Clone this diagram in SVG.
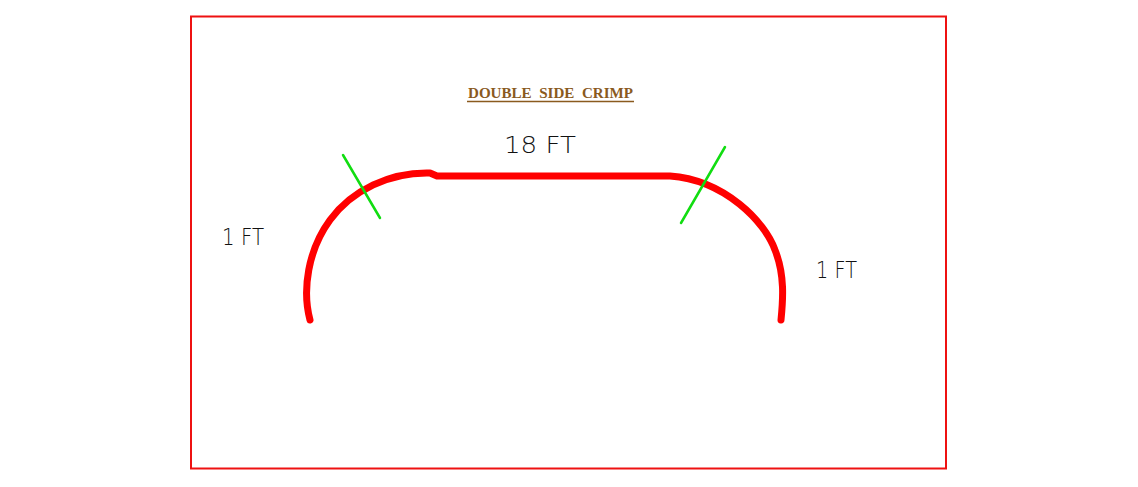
<svg xmlns="http://www.w3.org/2000/svg" width="1138" height="487" viewBox="0 0 1138 487">
<style>
.lbl{font-family:"DejaVu Sans","Liberation Sans",sans-serif;font-weight:200;fill:#111}
.title{font-family:"Liberation Serif",serif;font-weight:bold;fill:#8a5a1e;font-size:15px}
.cut{stroke:#11dd11;stroke-width:2.5;stroke-linecap:round}
</style>
<rect x="0" y="0" width="1138" height="487" fill="#fff"/>
<rect id="frame" x="191" y="16.5" width="755" height="452" fill="none" stroke="#ee1111" stroke-width="2"/>
<g id="title">
<text class="title" x="468" y="98" textLength="165" lengthAdjust="spacingAndGlyphs" xml:space="preserve">DOUBLE  SIDE  CRIMP</text>
<line x1="467" y1="101.5" x2="634" y2="101.5" stroke="#8a5a1e" stroke-width="1.3"/>
</g>
<g id="crimp">
<path d="M310,320 C302,290 308,250 330,220 C352,190 390,172 430,173 L437,176 L670,176 C725,180 765,222 775,250 C785,275 783,300 781,320" fill="none" stroke="#ff0000" stroke-width="7" stroke-linecap="round" stroke-linejoin="round"/>
</g>
<g id="connectors">
<line class="cut" x1="343" y1="155" x2="380" y2="218"/>
<line class="cut" x1="725" y1="147" x2="681" y2="223"/>
</g>
<g id="labels">
<text class="lbl" x="504" y="153" font-size="23" textLength="72" lengthAdjust="spacingAndGlyphs">18 FT</text>
<text class="lbl" x="222" y="245" font-size="23" textLength="42" lengthAdjust="spacingAndGlyphs">1 FT</text>
<text class="lbl" x="816" y="278" font-size="23" textLength="41" lengthAdjust="spacingAndGlyphs">1 FT</text>
</g>
</svg>
